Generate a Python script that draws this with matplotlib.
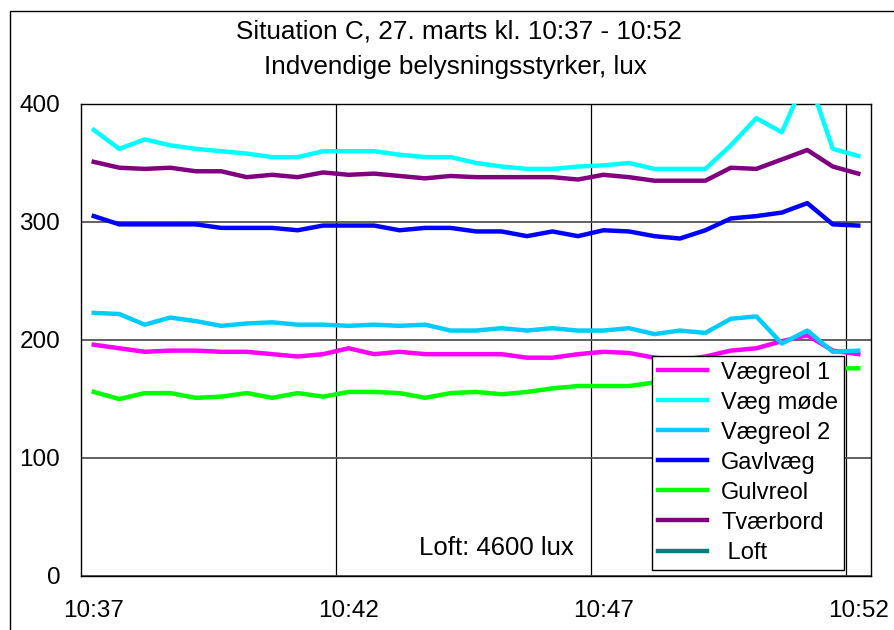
import numpy as np
import matplotlib
matplotlib.use('Agg')
import matplotlib.pyplot as plt
from matplotlib.patches import Rectangle

plt.rcParams['font.family'] = ['Liberation Sans', 'DejaVu Sans']

# målinger hvert 30. sekund, 10:37 - 10:52
tider = ['10:37:00', '10:37:30', '10:38:00', '10:38:30', '10:39:00', '10:39:30',
         '10:40:00', '10:40:30', '10:41:00', '10:41:30', '10:42:00', '10:42:30',
         '10:43:00', '10:43:30', '10:44:00', '10:44:30', '10:45:00', '10:45:30',
         '10:46:00', '10:46:30', '10:47:00', '10:47:30', '10:48:00', '10:48:30',
         '10:49:00', '10:49:30', '10:50:00', '10:50:30', '10:51:00', '10:51:30',
         '10:52:00']
tick_labels = ['10:37', '10:42', '10:47', '10:52']

vaegreol1 = [196, 193, 190, 191, 191, 190, 190, 188, 186, 188, 193, 188, 190, 188, 188, 188,
             188, 185, 185, 188, 190, 189, 185, 183, 186, 191, 193, 199, 204, 191, 188]
vaeg_moede = [378, 362, 370, 365, 362, 360, 358, 355, 355, 360, 360, 360, 357, 355, 355, 350,
              347, 345, 345, 347, 348, 350, 345, 345, 345, 365, 388, 376, 425, 362, 356]
vaegreol2 = [223, 222, 213, 219, 216, 212, 214, 215, 213, 213, 212, 213, 212, 213, 208, 208,
             210, 208, 210, 208, 208, 210, 205, 208, 206, 218, 220, 197, 208, 190, 191]
gavlvaeg = [305, 298, 298, 298, 298, 295, 295, 295, 293, 297, 297, 297, 293, 295, 295, 292,
            292, 288, 292, 288, 293, 292, 288, 286, 293, 303, 305, 308, 316, 298, 297]
gulvreol = [156, 150, 155, 155, 151, 152, 155, 151, 155, 152, 156, 156, 155, 151, 155, 156,
            154, 156, 159, 161, 161, 161, 164, 166, 168, 171, 173, 175, 176, 176, 176]
tvaerbord = [351, 346, 345, 346, 343, 343, 338, 340, 338, 342, 340, 341, 339, 337, 339, 338,
             338, 338, 338, 336, 340, 338, 335, 335, 335, 346, 345, 353, 361, 347, 341]
loft = [4600, 4600, 4600, 4600, 4600, 4600, 4600, 4600, 4600, 4600, 4600, 4600, 4600, 4600,
        4600, 4600, 4600, 4600, 4600, 4600, 4600, 4600, 4600, 4600, 4600, 4600, 4600, 4600,
        4600, 4600, 4600]

serier = [('Vægreol 1', vaegreol1, '#FF00FF'),
          ('Væg møde', vaeg_moede, '#00FFFF'),
          ('Vægreol 2', vaegreol2, '#00CCFF'),
          ('Gavlvæg', gavlvaeg, '#0000FF'),
          ('Gulvreol', gulvreol, '#00FF00'),
          ('Tværbord', tvaerbord, '#800080'),
          (' Loft', loft, '#008080')]

fig = plt.figure(figsize=(8.94, 6.3), dpi=100)
ax = fig.add_axes([81/894, 54/630, 790/894, 472/630])

x = np.arange(len(tider))
for navn, vals, farve in serier:
    ax.plot(x, vals, color=farve, lw=3.2, label=navn, zorder=3)

ax.set_xlim(-0.5, len(tider) - 0.5)
ax.set_ylim(0, 400)
ax.set_xticks([0, 10, 20, 30])
ax.set_xticklabels(tick_labels)
ax.set_xticks([9.5, 19.5, 29.5], minor=True)
ax.set_yticks([0, 100, 200, 300, 400])
ax.tick_params(axis='both', which='both', length=0, labelsize=17.5)
ax.tick_params(axis='x', pad=17)
ax.tick_params(axis='y', pad=15)
ax.grid(axis='x', which='minor', color='black', lw=0.9, zorder=1)
ax.grid(axis='y', which='major', color='#555555', lw=1.3, zorder=1)
for sp in ax.spines.values():
    sp.set_color('black')
    sp.set_linewidth(1.0)

ax.text(15.8, 24, 'Loft: 4600 lux', ha='center', va='center', fontsize=18.5)

leg = ax.legend(loc='upper left', bbox_to_anchor=(0.7224, 0.4667), borderaxespad=0,
                fontsize=17, frameon=True, fancybox=False, framealpha=1,
                edgecolor='black', handlelength=2.1, handletextpad=0.6,
                borderpad=0.25, labelspacing=0.34)
leg.get_frame().set_linewidth(1.0)
leg.set_zorder(5)

fig.text(459/894, 1 - 32/630, 'Situation C, 27. marts kl. 10:37 - 10:52',
         ha='center', va='center', fontsize=18.8)
fig.text(455/894, 1 - 67/630, 'Indvendige belysningsstyrker, lux',
         ha='center', va='center', fontsize=18.8)

fig.patches.append(Rectangle((10/894, -0.1), 1.2, 1 - 11/630 + 0.1,
                             transform=fig.transFigure, fill=False,
                             edgecolor='black', lw=1.0))

fig.savefig('out.png', dpi=100)
